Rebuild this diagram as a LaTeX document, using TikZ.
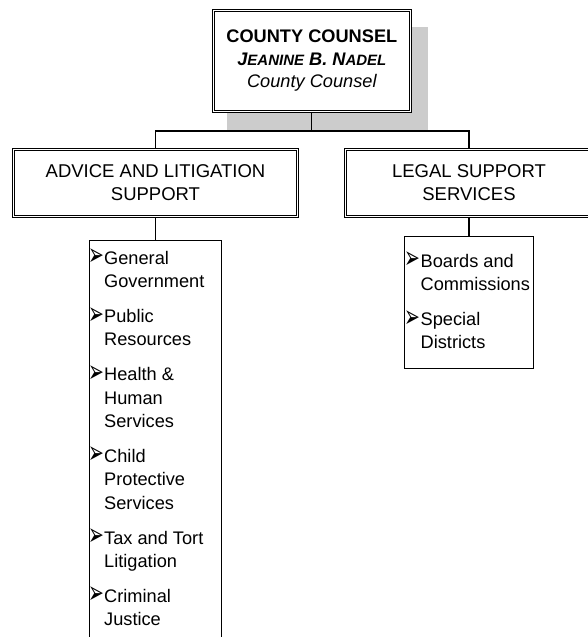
\documentclass[tikz,border=0pt]{standalone}
\usepackage{fontspec}
\usepackage{graphicx}
\setmainfont{Liberation Sans}
\newfontfamily\arrowfont{DejaVu Sans}
\usetikzlibrary{backgrounds}
\newcommand{\arw}{\smash{\raisebox{-1.5bp}{\scalebox{0.9}[1.5]{\arrowfont\fontsize{21bp}{21bp}\selectfont ➢}}}\hspace{0.3bp}}
\newcommand{\smc}[1]{{\fontsize{15bp}{23bp}\selectfont #1}}
\tikzset{
  dbox/.style={draw=black, line width=1bp, double=white, double distance=1.4bp,
    fill=white, inner sep=0pt, align=center, font=\fontsize{18.5bp}{23bp}\selectfont},
  lbox/.style={draw=black, line width=1bp, fill=white, inner sep=0pt},
  ltext/.style={inner sep=0pt, align=left, anchor=north west,
    font=\fontsize{18.2bp}{23.3bp}\selectfont},
  conn/.style={draw=black, line width=1.1bp},
  shadowfill/.style={fill=black!20}
}
\begin{document}
\begin{tikzpicture}[x=1bp,y=-1bp]
\useasboundingbox (0,0) rectangle (588,637);
\clip (0,0) rectangle (588,637);
\node[dbox, minimum width=196.7bp, minimum height=100.6bp, font=\fontsize{18.2bp}{22.5bp}\selectfont] (cc) at (311.85,61)
  {{\bfseries COUNTY COUNSEL}\\
   {\bfseries\itshape J\smc{EANINE} B. N\smc{ADEL}}\\
   {\itshape County Counsel}};
\node[dbox, minimum width=283.6bp, minimum height=66.6bp] (adv) at (155.5,183)
  {ADVICE AND LITIGATION\\SUPPORT};
\node[dbox, minimum width=247bp, minimum height=66.6bp] (leg) at (469,183)
  {LEGAL SUPPORT\\SERVICES};
\node[lbox, minimum width=132bp, minimum height=420bp, anchor=north] (adl) at (155.5,239.5) {};
\node[lbox, minimum width=129bp, minimum height=132bp, anchor=north] (lss) at (469,235.5) {};
\node[ltext] (adltext) at (104,250)
  {\rule{0pt}{14bp}\llap{\arw}General\\Government\\[11.7bp]
   \llap{\arw}Public\\Resources\\[11.7bp]
   \llap{\arw}Health \&\\Human\\Services\\[11.7bp]
   \llap{\arw}Child\\Protective\\Services\\[11.7bp]
   \llap{\arw}Tax and Tort\\Litigation\\[11.7bp]
   \llap{\arw}Criminal\\Justice};
\node[ltext] (lsstext) at (420.5,253)
  {\rule{0pt}{14bp}\llap{\arw}Boards and\\Commissions\\[11.7bp]
   \llap{\arw}Special\\Districts};
\begin{scope}[on background layer]
  \fill[shadowfill] (227,27) rectangle (428,131);
  \coordinate (jn) at (311.85,131);
  \draw[conn] (cc.south) -- (jn);
  \draw[conn] (adv.north) |- (jn) -| (leg.north);
  \draw[conn] (adv.south) -- (adl.north);
  \draw[conn] (leg.south) -- (lss.north);
\end{scope}
\end{tikzpicture}
\end{document}
